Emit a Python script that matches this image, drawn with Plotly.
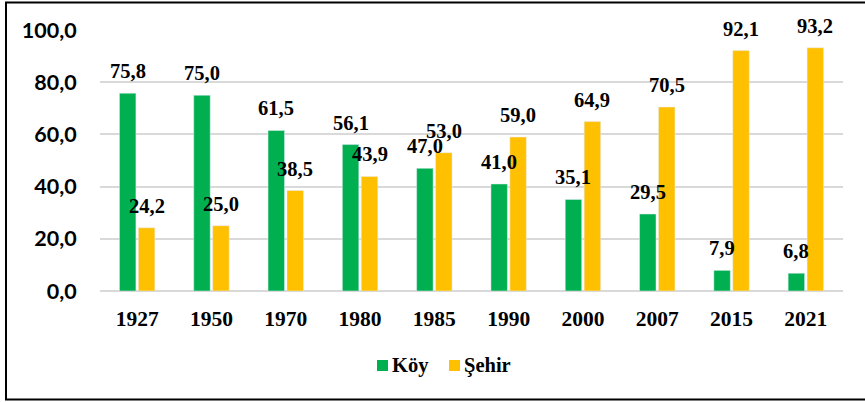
import plotly.graph_objects as go

years = ["1927", "1950", "1970", "1980", "1985", "1990", "2000", "2007", "2015", "2021"]
koy = [75.8, 75.0, 61.5, 56.1, 47.0, 41.0, 35.1, 29.5, 7.9, 6.8]
sehir = [24.2, 25.0, 38.5, 43.9, 53.0, 59.0, 64.9, 70.5, 92.1, 93.2]
y_ticks = [0, 20, 40, 60, 80, 100]
y_tick_labels = ["0,0", "20,0", "40,0", "60,0", "80,0", "100,0"]
series_names = ["Köy", "Şehir"]

GREEN = "#00B050"
YELLOW = "#FFC000"
SERIF = "Liberation Serif"

def fmt(v):
    return f"{v:.1f}".replace(".", ",")

fig = go.Figure()
fig.add_trace(go.Bar(x=years, y=koy, name=series_names[0], marker_color=GREEN))
fig.add_trace(go.Bar(x=years, y=sehir, name=series_names[1], marker_color=YELLOW))

annotations = []
for series, shift in ((koy, -9.5), (sehir, 9.5)):
    for i, v in enumerate(series):
        annotations.append(dict(
            x=i, y=v, xref="x", yref="y", text=fmt(v), showarrow=False,
            xshift=shift, yshift=22, yanchor="middle",
            font=dict(family=SERIF, size=20.5, color="#000000", weight="bold"),
        ))

# custom legend (square + text), positioned in paper coordinates
PL, PW, PT, PH = 100, 743, 30, 261
def px_x(p):
    return (p - PL) / PW
def px_y(p):
    return (PT + PH - p) / PH

shapes = [dict(
    type="rect", xref="paper", yref="paper",
    x0=px_x(6), x1=px_x(875), y0=px_y(399.5), y1=px_y(2.5),
    line=dict(color="#000000", width=2), fillcolor="rgba(0,0,0,0)", layer="above",
)]
legend_items = [(series_names[0], GREEN, 377), (series_names[1], YELLOW, 449)]
for name, col, sx in legend_items:
    shapes.append(dict(
        type="rect", xref="paper", yref="paper",
        x0=px_x(sx), x1=px_x(sx + 11), y0=px_y(371), y1=px_y(360),
        line=dict(width=0), fillcolor=col,
    ))
    annotations.append(dict(
        x=px_x(sx + 13), y=px_y(365), xref="paper", yref="paper", text=name,
        showarrow=False, xanchor="left", yanchor="middle",
        font=dict(family=SERIF, size=20.5, color="#000000", weight="bold"),
    ))

fig.update_layout(
    width=865, height=402,
    margin=dict(l=PL, r=865 - PL - PW, t=PT, b=402 - PT - PH, autoexpand=False),
    paper_bgcolor="white", plot_bgcolor="white",
    barmode="group", bargap=0.49, bargroupgap=0.13,
    annotations=annotations,
    shapes=shapes,
    showlegend=False,
)
fig.update_xaxes(
    type="category", range=[-0.5, len(years) - 0.5], automargin=False,
    showgrid=False, showline=False, ticks="outside", ticklen=8,
    tickcolor="rgba(0,0,0,0)",
    tickfont=dict(family=SERIF, size=21.5, color="#000000", weight="bold"),
)
fig.update_yaxes(
    range=[0, 100], tickvals=y_ticks, ticktext=y_tick_labels, automargin=False,
    showgrid=True, gridcolor="#D9D9D9", gridwidth=1.5,
    zeroline=True, zerolinecolor="#D9D9D9", zerolinewidth=1.5,
    showline=False, ticks="outside", ticklen=18, tickcolor="rgba(0,0,0,0)",
    tickfont=dict(family="Lato", size=21.5, color="#000000", weight="bold"),
)

fig.write_html(
    "out.html",
    config={"displayModeBar": False},
    post_script="document.body.style.margin='0';document.body.style.overflow='hidden';",
)
